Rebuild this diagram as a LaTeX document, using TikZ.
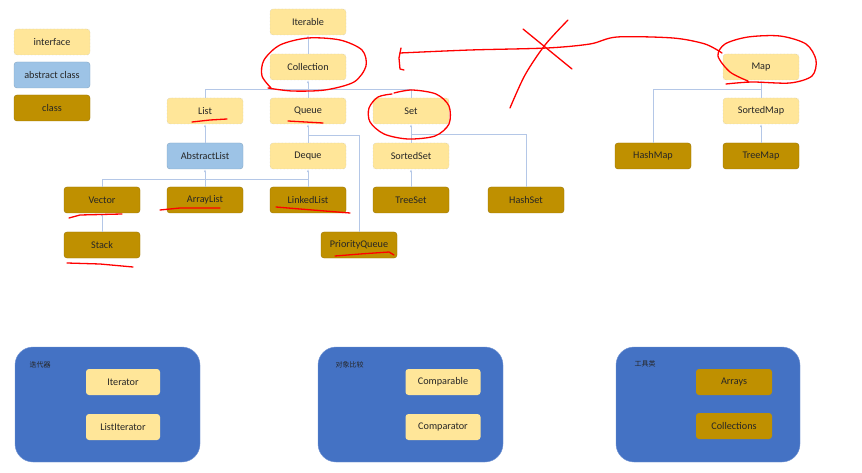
\documentclass[tikz,border=0pt]{standalone}
\usepackage{fontspec}
\setmainfont{Carlito}
\newfontfamily\cjkfont{Noto Sans CJK SC}
\usetikzlibrary{arrows.meta,positioning,calc}
\definecolor{ifacefill}{HTML}{FFE699}
\definecolor{absfill}{HTML}{9DC3E6}
\definecolor{clsfill}{HTML}{BF9000}
\definecolor{panelblue}{HTML}{4472C4}
\definecolor{linkblue}{HTML}{B4C7E7}
\definecolor{inkred}{HTML}{FF0000}

\begin{document}
\begin{tikzpicture}[
  x=1pt, y=-1pt, >={Latex[length=3pt,width=2.4pt]},
  every node/.style={font=\fontsize{10.2}{12}\selectfont, text=black!85},
  box/.style={rounded corners=3pt, minimum width=76pt, minimum height=26pt, inner sep=0pt},
  iface/.style={box, fill=ifacefill, draw=gray!55, densely dotted},
  abscls/.style={box, fill=absfill, draw=absfill!85!black},
  cls/.style={box, fill=clsfill, draw=clsfill!80!black},
  link/.style={draw=linkblue, line width=0.8pt},
  panel/.style={rounded corners=18pt, fill=panelblue, draw=panelblue!75!white,
                minimum width=185pt, minimum height=115pt},
  ink/.style={draw=inkred, line width=1.3pt, line cap=round, line join=round}
]
  \useasboundingbox (0,0) rectangle (862,473);

  % legend
  \node[iface] (legIface) at (52,42) {interface};
  \node[abscls] (legAbs) at (52,75) {abstract class};
  \node[cls] (legCls) at (52,108) {class};

  % interfaces
  \foreach \nm/\x/\y in {Iterable/308/22, Collection/308/67, List/205/111,
      Queue/308/111, Set/411/111, Deque/308/156, SortedSet/411/156,
      Map/761/67, SortedMap/761/111} {
    \node[iface] (\nm) at (\x,\y) {\nm};
  }
  \node[abscls] (AbstractList) at (205,156) {AbstractList};
  % classes
  \foreach \nm/\x/\y in {Vector/102/200, ArrayList/205/200, LinkedList/308/200,
      TreeSet/411/200, HashSet/526/200, Stack/102/245, PriorityQueue/359/245,
      HashMap/653/156, TreeMap/761/156} {
    \node[cls] (\nm) at (\x,\y) {\nm};
  }

  % bus points
  \coordinate (colBus) at (308,89);
  \coordinate (queBus) at (308,135);
  \coordinate (setBus) at (411,134);
  \coordinate (absBus) at (205,179);
  \coordinate (mapBus) at (761,89);

  % connectors
  \draw[link,->] (Collection) -- (Iterable);
  \draw[link,->] (Queue) -- (Collection);
  \draw[link] (List.north) |- (colBus);
  \draw[link] (Set.north) |- (colBus);
  \draw[link,->] (AbstractList) -- (List);
  \draw[link,->] (Deque) -- (Queue);
  \draw[link] (PriorityQueue.north) |- (queBus);
  \draw[link,->] (SortedSet) -- (Set);
  \draw[link] (HashSet.north) |- (setBus);
  \draw[link,->] (ArrayList) -- (AbstractList);
  \draw[link] (Vector.north) |- (absBus);
  \draw[link] (LinkedList.north) |- (absBus);
  \draw[link,->] (LinkedList) -- (Deque);
  \draw[link,->] (TreeSet) -- (SortedSet);
  \draw[link,->] (Stack) -- (Vector);
  \draw[link,->] (SortedMap) -- (Map);
  \draw[link] (HashMap.north) |- (mapBus);
  \draw[link,->] (TreeMap) -- (SortedMap);

  % bottom groups
  \node[panel] (iterPanel) at (107.5,404.5) {};
  \node[panel] (cmpPanel) at (410.5,404.5) {};
  \node[panel, minimum width=184pt] (toolPanel) at (708,404.5) {};
  \node[anchor=west, font=\cjkfont\fontsize{7}{8}\selectfont] (iterLab) at (26,365) {迭代器};
  \node[anchor=west, font=\cjkfont\fontsize{7}{8}\selectfont] (cmpLab) at (332,365) {对象比较};
  \node[anchor=west, font=\cjkfont\fontsize{7}{8}\selectfont] (toolLab) at (631,364) {工具类};
  \node[box, fill=ifacefill, minimum width=74pt] (Iterator) at (123,382) {Iterator};
  \node[box, fill=ifacefill, minimum width=74pt] (ListIterator) at (123,427) {ListIterator};
  \node[box, fill=ifacefill, minimum width=75pt] (Comparable) at (443,382) {Comparable};
  \node[box, fill=ifacefill, minimum width=75pt] (Comparator) at (443,427) {Comparator};
  \node[box, fill=clsfill] (Arrays) at (734,382) {Arrays};
  \node[box, fill=clsfill] (Collections) at (734,426) {Collections};

  % red marks
  \draw[ink] plot[smooth] coordinates {(272,89) (262,76) (264,60) (280,45) (308,38)
      (340,40) (362,50) (366,66) (354,82) (325,90) (292,91) (268,88)};
  \draw[ink] plot[smooth] coordinates {(392,94) (378,97) (369,108) (370,122) (384,134)
      (408,139) (435,136) (449,124) (449,106) (436,94) (412,90) (394,93)};
  \draw[ink] plot[smooth] coordinates {(726,84) (752,82) (790,83) (812,76) (816,60)
      (806,44) (780,36) (748,37) (725,44) (718,56) (730,72) (748,81)};
  \draw[ink] plot[smooth] coordinates {(400,53) (470,50) (547,48) (590,44) (617,37)
      (673,38) (705,44) (722,53)};
  \draw[ink] (401,48) -- (399,58) -- (400,69) -- (404,70);
  \draw[ink] (523,29) -- (572,69);
  \draw[ink] plot[smooth] coordinates {(568,20) (545,45) (525,75) (510,108)};
  \draw[ink] (192,122) -- (210,120) -- (227,119);
  \draw[ink] (288,121) -- (323,123);
  \draw[ink] (69,218) -- (80,215) -- (122,214);
  \draw[ink] (160,210) -- (180,208) -- (220,208);
  \draw[ink] (276,207) -- (300,209) -- (350,213);
  \draw[ink] (67,263) -- (100,264) -- (133,267);
  \draw[ink] (335,256) -- (360,254) -- (389,252) -- (394,255);
\end{tikzpicture}
\end{document}
